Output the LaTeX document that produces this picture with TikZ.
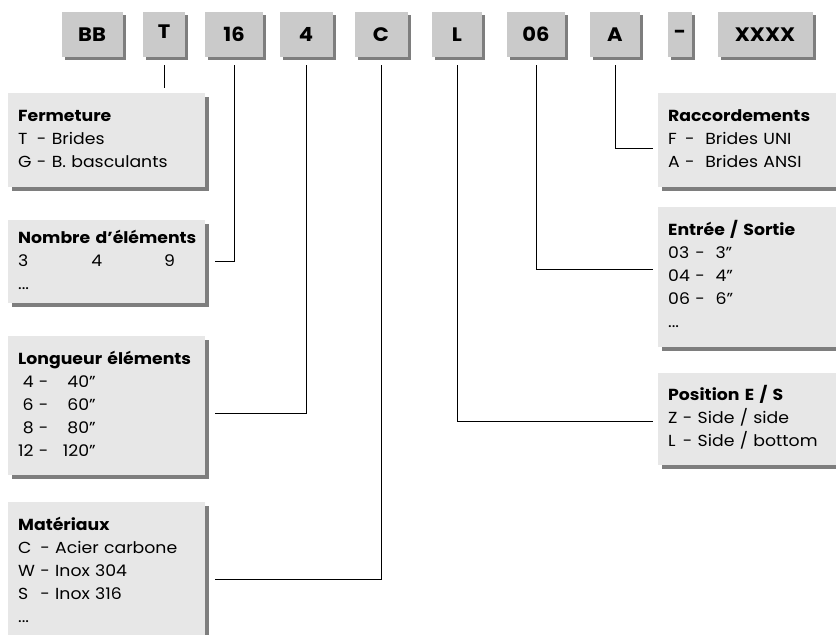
\documentclass[tikz,border=0pt]{standalone}
\usepackage{fontspec}
\setmainfont{Poppins}[FakeStretch=1.08]
\usetikzlibrary{shadows}
\definecolor{codegray}{HTML}{CACACA}
\definecolor{descgray}{HTML}{E7E7E7}
\definecolor{shadegray}{HTML}{7E7E7E}
\tikzset{x=1pt, y=-1pt}
\tikzset{
  codebox/.style={fill=codegray, minimum height=45pt, inner sep=0pt,
    font=\fontsize{19.5}{20}\selectfont\bfseries,
    drop shadow={shadow xshift=3pt, shadow yshift=-3pt, fill=shadegray, opacity=1}},
  descbox/.style={fill=descgray, anchor=north west, text width=177pt, inner xsep=10pt,
    inner ysep=0pt, align=left, font=\fontsize{16}{23}\selectfont,
    drop shadow={shadow xshift=4pt, shadow yshift=-4pt, fill=shadegray, opacity=1}},
  link/.style={draw=black, line width=0.9pt},
}

\begin{document}
\begin{tikzpicture}
\useasboundingbox (0,0) rectangle (836,635);
\clip (0,0) rectangle (836,635);
% code boxes along the top
\foreach \id/\txt/\cx/\w/\r in {BB/BB/92/61/0, T/T/164/42/5, 16/16/234/58/0, 4/4/306/53/0,
  C/C/381/53/0, L/L/457/50/0, 06/06/536/58/0, A/A/615/50/0, dash/-/680/24/0, XXXX/XXXX/765/95/0}
  \node[codebox, minimum width=\w pt] (c\id) at (\cx,34.5) {\raisebox{\r pt}{\txt}};

% left column
\node[descbox, minimum height=94pt] (ferm) at (8,93) {\begin{tabular}{@{}l@{ - }l@{}}
  \multicolumn{2}{@{}l@{}}{\rlap{\bfseries Fermeture}}\\ T & Brides\\ G & B. basculants\end{tabular}};
\node[descbox, minimum height=83pt] (nomb) at (8,220) {\begin{tabular}{@{}l@{}}
  \bfseries Nombre d’éléments\\ 3\hspace{63pt}4\hspace{62pt}9\\ ...\end{tabular}};
\node[descbox, minimum height=139pt] (long) at (8,336) {\begin{tabular}{@{}r@{ - \hspace{9pt}}r@{}}
  \multicolumn{2}{@{}l@{}}{\rlap{\bfseries Longueur éléments}}\\ 4 & 40”\\ 6 & 60”\\ 8 & 80”\\ 12 & 120”\end{tabular}};
\node[descbox, minimum height=139pt] (mat) at (8,502) {\begin{tabular}{@{}l@{ - }l@{}}
  \multicolumn{2}{@{}l@{}}{\rlap{\bfseries Matériaux}}\\ C & Acier carbone\\ W & Inox 304\\ S & Inox 316\\
  \multicolumn{2}{@{}l@{}}{...}\end{tabular}};

% right column
\node[descbox, minimum height=94pt] (racc) at (658,93) {\begin{tabular}{@{}l@{ - \ }l@{}}
  \multicolumn{2}{@{}l@{}}{\rlap{\bfseries Raccordements}}\\ F & Brides UNI\\ A & Brides ANSI\end{tabular}};
\node[descbox, minimum height=140pt] (entr) at (658,207) {\begin{tabular}{@{}l@{ - \ }l@{}}
  \multicolumn{2}{@{}l@{}}{\rlap{\bfseries Entrée / Sortie}}\\ 03 & 3”\\ 04 & 4”\\ 06 & 6”\\
  \multicolumn{2}{@{}l@{}}{...}\end{tabular}};
\node[descbox, minimum height=92pt] (posi) at (658,373) {\begin{tabular}{@{}l@{ - }l@{}}
  \multicolumn{2}{@{}l@{}}{\rlap{\bfseries Position E / S}}\\ Z & Side / side\\ L & Side / bottom\end{tabular}};

% connectors
\draw[link, shorten <=8pt, shorten >=5pt] (cT.south) -- (cT.south |- ferm.north);
\draw[link, shorten <=8pt] (c16.south) |- ([xshift=10pt]nomb.east);
\draw[link, shorten <=8pt] (c4.south) |- ([xshift=10pt,yshift=-7.5pt]long.east);
\draw[link, shorten <=8pt] (cC.south) |- ([xshift=10pt,yshift=-7.5pt]mat.east);
\draw[link, shorten <=8pt] (cL.south) |- ([xshift=-5pt,yshift=-2pt]posi.west);
\draw[link, shorten <=8pt] (c06.south) |- ([xshift=-5pt,yshift=8pt]entr.west);
\draw[link, shorten <=8pt] (cA.south) |- ([xshift=-5pt,yshift=-8pt]racc.west);
\end{tikzpicture}
\end{document}
